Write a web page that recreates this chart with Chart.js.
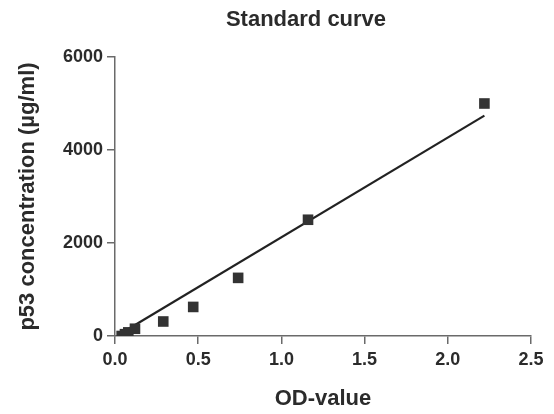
<!DOCTYPE html>
<html>
<head>
<meta charset="utf-8">
<script src="https://cdn.jsdelivr.net/npm/chart.js@4.4.1/dist/chart.umd.min.js"></script>
<style>
  html, body { margin: 0; padding: 0; background: #fff; }
  #wrap { width: 554px; height: 414px; }
</style>
</head>
<body>
<div id="wrap"><canvas id="stdCurve"></canvas></div>
<script>
// measured standards (OD vs concentration)
var odValues = [0.04, 0.06, 0.08, 0.12, 0.29, 0.47, 0.74, 1.16, 2.22];
var concValues = [0, 39, 78, 156, 312, 625, 1250, 2500, 5000];

// fitted line end points
var fitX = [0.03, 2.22];
var fitY = [43, 4740];

var xTicks = [0, 0.5, 1.0, 1.5, 2.0, 2.5];
var yTicks = [0, 2000, 4000, 6000];

var chartTitle = 'Standard curve';
var xTitle = 'OD-value';
var yTitle = 'p53 concentration (µg/ml)';

var textColor = '#2b2b2b';
var axisColor = '#6a6a6a';
var fontFamily = '"Liberation Sans", Arial, Helvetica, sans-serif';

var pts = odValues.map(function (x, i) { return { x: x, y: concValues[i] }; });
var fitPts = fitX.map(function (x, i) { return { x: x, y: fitY[i] }; });

// title drawn on the canvas, offset like in the original figure
var titlePlugin = {
    id: 'figTitle',
    afterDraw: function (chart) {
        var ctx = chart.ctx;
        ctx.save();
        ctx.font = 'bold 22px ' + fontFamily;
        ctx.fillStyle = textColor;
        ctx.textAlign = 'center';
        ctx.textBaseline = 'middle';
        ctx.fillText(chartTitle, 306, 20);
        ctx.restore();
    }
};

var ctx = document.getElementById('stdCurve').getContext('2d');
var chart = new Chart(ctx, {
    type: 'scatter',
    data: {
        datasets: [{
            label: 'fit',
            data: fitPts,
            showLine: true,
            borderColor: '#222',
            borderWidth: 2.2,
            pointRadius: 0,
            order: 2
        }, {
            label: 'standards',
            data: pts,
            pointStyle: 'rect',
            pointRadius: 7.5,
            backgroundColor: '#333',
            borderColor: '#333',
            borderWidth: 0,
            order: 1
        }]
    },
    options: {
        responsive: true,
        maintainAspectRatio: false,
        animation: false,
        layout: {
            padding: { left: 10, right: 23, top: 57, bottom: 0 }
        },
        plugins: {
            legend: { display: false },
            tooltip: { enabled: false }
        },
        scales: {
            x: {
                type: 'linear',
                min: 0,
                max: 2.5,
                afterFit: function (scale) { scale.height = 78; },
                afterBuildTicks: function (scale) {
                    scale.ticks = xTicks.map(function (v) { return { value: v }; });
                },
                ticks: {
                    color: textColor,
                    font: { family: fontFamily, size: 18, weight: 'bold' },
                    padding: 5,
                    callback: function (v) { return v.toFixed(1); }
                },
                grid: {
                    drawOnChartArea: false,
                    drawTicks: true,
                    tickLength: 8,
                    color: axisColor,
                    lineWidth: 1.5
                },
                border: { display: true, color: axisColor, width: 1.5 },
                title: {
                    display: true,
                    text: xTitle,
                    color: textColor,
                    font: { family: fontFamily, size: 22, weight: 'bold' },
                    padding: { top: 0, bottom: 2 }
                }
            },
            y: {
                type: 'linear',
                min: 0,
                max: 6000,
                afterFit: function (scale) { scale.width = 105; },
                afterBuildTicks: function (scale) {
                    scale.ticks = yTicks.map(function (v) { return { value: v }; });
                },
                ticks: {
                    color: textColor,
                    font: { family: fontFamily, size: 18, weight: 'bold' },
                    padding: 4,
                    callback: function (v) { return String(v); }
                },
                grid: {
                    drawOnChartArea: false,
                    drawTicks: true,
                    tickLength: 8,
                    color: axisColor,
                    lineWidth: 1.5
                },
                border: { display: true, color: axisColor, width: 1.5 },
                title: {
                    display: true,
                    text: yTitle,
                    color: textColor,
                    font: { family: fontFamily, size: 22, weight: 'bold' },
                    padding: { top: 5, bottom: 0 }
                }
            }
        }
    },
    plugins: [titlePlugin]
});
</script>
</body>
</html>
